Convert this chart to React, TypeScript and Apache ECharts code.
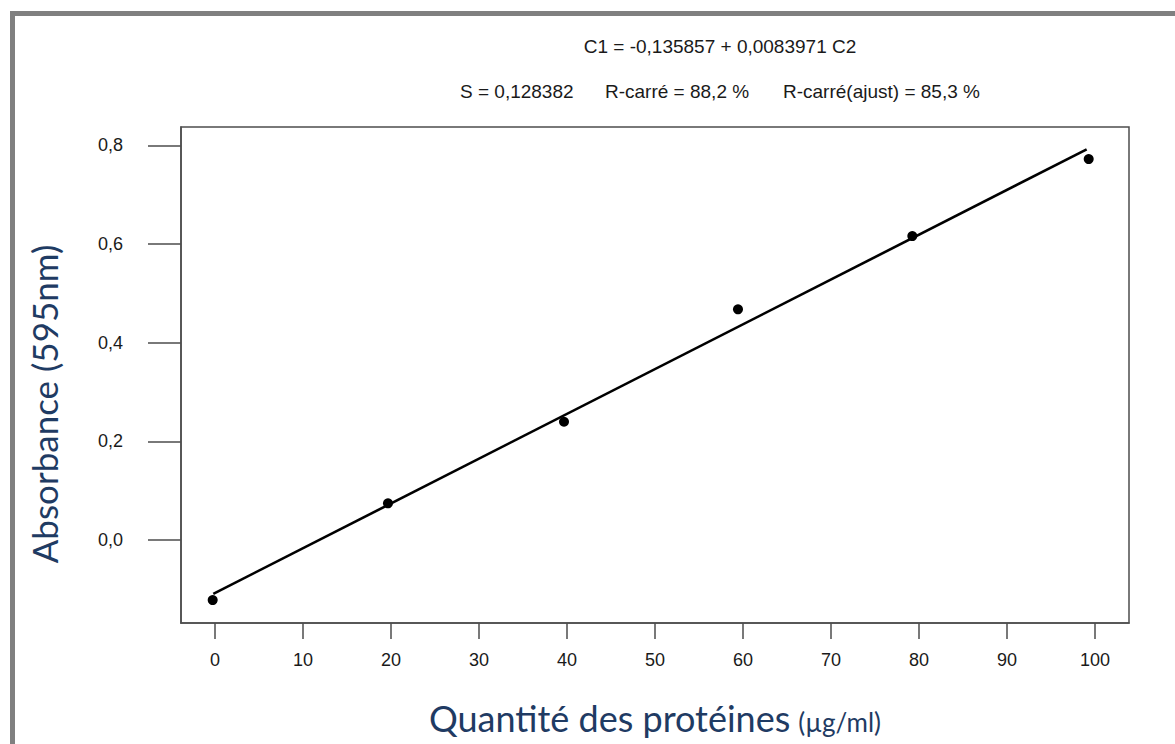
import React, { useEffect, useRef } from "react";
import * as echarts from "echarts";

const pointsX = [-0.26, 19.66, 39.66, 59.43, 79.24, 99.28];
const pointsY = [-0.1216, 0.0744, 0.2397, 0.4675, 0.616, 0.772];
const fitX = [-0.19, 99.05];
const fitY = [-0.109, 0.7917];
const xTicks = [0, 10, 20, 30, 40, 50, 60, 70, 80, 90, 100];
const yTicks = [0, 0.2, 0.4, 0.6, 0.8];
const equationText = "C1 = -0,135857 + 0,0083971 C2";
const statsTexts = ["S = 0,128382", "R-carré = 88,2 %", "R-carré(ajust) = 85,3 %"];
const yName = "Absorbance (595nm)";
const xNameMain = "Quantité des protéines";
const xNameUnit = "(µg/ml)";

const AXIS_COLOR = "#4d4d4d";
const NAME_COLOR = "#1f3b63";

export default function App() {
  const ref = useRef<HTMLDivElement>(null);
  useEffect(() => {
    if (!ref.current) return;
    const chart = echarts.init(ref.current, undefined, { renderer: "svg" });
    const statsLeft = [455, 600, 778];
    chart.setOption({
      animation: false,
      backgroundColor: "#ffffff",
      grid: {
        left: 181,
        top: 127,
        right: 46,
        bottom: 121,
        show: true,
        borderColor: AXIS_COLOR,
        borderWidth: 1.5,
        containLabel: false,
      },
      title: [
        {
          text: equationText,
          left: 715,
          top: 32,
          textAlign: "center",
          textStyle: { fontFamily: "Liberation Sans", fontSize: 19, fontWeight: "normal", color: "#1a1a1a" },
        },
        ...statsTexts.map((t, i) => ({
          text: t,
          left: statsLeft[i],
          top: 77,
          textStyle: { fontFamily: "Liberation Sans", fontSize: 19, fontWeight: "normal", color: "#1a1a1a" },
        })),
      ],
      xAxis: {
        type: "value",
        min: -3.86,
        max: 103.86,
        splitLine: { show: false },
        axisLine: { show: true, onZero: false, lineStyle: { color: AXIS_COLOR, width: 1.5 } },
        axisTick: { show: true, length: 16, customValues: xTicks, lineStyle: { color: AXIS_COLOR, width: 1.5 } },
        axisLabel: {
          customValues: xTicks,
          margin: 28,
          fontFamily: "Liberation Sans",
          fontSize: 18,
          color: "#1a1a1a",
          formatter: (v: number) => String(v),
        },
        name: `{a|${xNameMain}}{b|${xNameUnit}}`,
        nameLocation: "middle",
        nameGap: 77,
        nameTextStyle: {
          rich: {
            a: { fontFamily: "Lato", fontSize: 36, color: NAME_COLOR },
            b: { fontFamily: "Lato", fontSize: 26, color: NAME_COLOR, padding: [8, 0, 0, 8] },
          },
        },
      },
      yAxis: {
        type: "value",
        min: -0.168,
        max: 0.837,
        splitLine: { show: false },
        axisLine: { show: true, onZero: false, lineStyle: { color: AXIS_COLOR, width: 1.5 } },
        axisTick: { show: true, length: 33, customValues: yTicks, lineStyle: { color: AXIS_COLOR, width: 1.5 } },
        axisLabel: {
          customValues: yTicks,
          margin: 58,
          fontFamily: "Liberation Sans",
          fontSize: 18,
          color: "#1a1a1a",
          formatter: (v: number) => v.toFixed(1).replace(".", ","),
        },
      },
      graphic: [
        {
          type: "rect",
          shape: { x: 12.5, y: 13.5, width: 1300, height: 900 },
          style: { fill: "none", stroke: "#808080", lineWidth: 5 },
          z: 10,
        },
        {
          type: "text",
          x: 44,
          y: 404,
          rotation: Math.PI / 2,
          style: {
            text: yName,
            font: "35px Lato",
            fill: NAME_COLOR,
            align: "center",
            verticalAlign: "middle",
          },
        },
      ],
      series: [
        {
          type: "line",
          data: fitX.map((x, i) => [x, fitY[i]]),
          showSymbol: false,
          symbol: "none",
          lineStyle: { color: "#000", width: 2.6 },
          z: 2,
        },
        {
          type: "scatter",
          data: pointsX.map((x, i) => [x, pointsY[i]]),
          symbol: "circle",
          symbolSize: 10,
          itemStyle: { color: "#000", opacity: 1 },
          z: 3,
        },
      ],
    });
    return () => chart.dispose();
  }, []);
  return (
    <div
      ref={ref}
      style={{ position: "fixed", left: 0, top: 0, width: 1175, height: 744 }}
    />
  );
}
